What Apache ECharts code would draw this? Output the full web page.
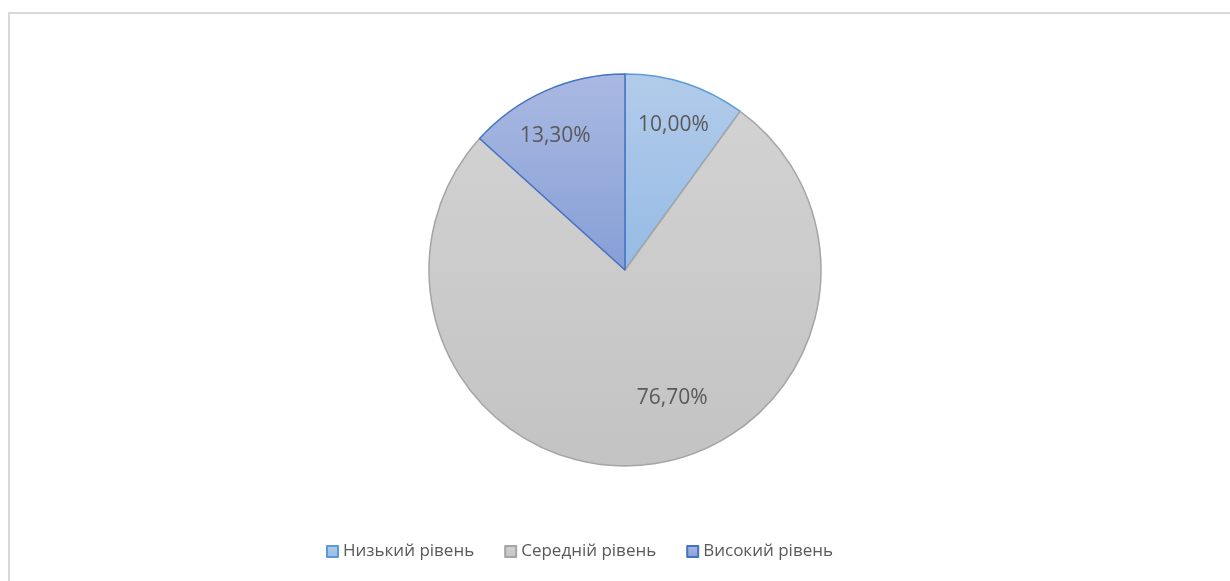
<!DOCTYPE html>
<html>
<head>
<meta charset="utf-8">
<script src="https://cdn.jsdelivr.net/npm/echarts@6/dist/echarts.min.js"></script>
<style>
  html, body { margin: 0; padding: 0; background: #fff; overflow: hidden; }
  #frame { position: absolute; left: 8px; top: 12px; width: 1240px; height: 600px;
           border-left: 2px solid #d9d9d9; border-top: 2px solid #d9d9d9; box-sizing: border-box; }
  #chart { position: absolute; left: 0; top: 0; width: 1230px; height: 581px; }
</style>
</head>
<body>
<div id="frame"></div>
<div id="chart"></div>
<script>
// Distribution of levels (share, %)
const categories = ['Низький рівень', 'Середній рівень', 'Високий рівень'];
const values = [10.0, 76.7, 13.3];

// Slice appearance: gradient fill (top -> bottom) and outline colour
const fillTop = ['#b2cbea', '#d2d2d2', '#aab9e2'];
const fillBottom = ['#96bbe5', '#c3c3c3', '#869fd6'];
const outline = ['#5b9bd5', '#a5a5a5', '#4472c4'];
// Nudges for the inside labels
const labelOffsets = [[0, 4], [31, -28], [-6, 10]];

const fmt = v => v.toFixed(2).replace('.', ',') + '%';

const chart = echarts.init(document.getElementById('chart'), null, { renderer: 'canvas' });

const data = categories.map((name, i) => ({
  name,
  value: values[i],
  itemStyle: {
    color: new echarts.graphic.LinearGradient(0, 0, 0, 1, [
      { offset: 0, color: fillTop[i] },
      { offset: 1, color: fillBottom[i] }
    ]),
    borderColor: outline[i],
    borderWidth: 1.5
  }
}));

chart.setOption({
  animation: false,
  legend: {
    data: categories,
    top: 538,
    left: 321,
    itemWidth: 11,
    itemHeight: 11,
    itemGap: 30,
    icon: 'rect',
    textStyle: { fontFamily: 'Open Sans', fontSize: 17, color: '#595959' }
  },
  series: [
    {
      // filled slices
      type: 'pie',
      center: [625, 270],
      radius: [0, 196],
      startAngle: 90,
      clockwise: true,
      silent: true,
      label: { show: false },
      labelLine: { show: false },
      data
    },
    {
      // value labels placed in the outer band of each slice
      type: 'pie',
      center: [625, 270],
      radius: [112, 196],
      startAngle: 90,
      clockwise: true,
      silent: true,
      legendHoverLink: false,
      itemStyle: { color: 'rgba(0,0,0,0)', borderWidth: 0 },
      label: {
        show: true,
        position: 'inside',
        formatter: p => fmt(p.value),
        fontFamily: 'Open Sans',
        fontSize: 21,
        color: '#595959'
      },
      labelLine: { show: false },
      data: categories.map((name, i) => ({
        name, value: values[i],
        itemStyle: { color: 'rgba(0,0,0,0)' },
        label: { offset: labelOffsets[i] }
      }))
    }
  ]
});
</script>
</body>
</html>
